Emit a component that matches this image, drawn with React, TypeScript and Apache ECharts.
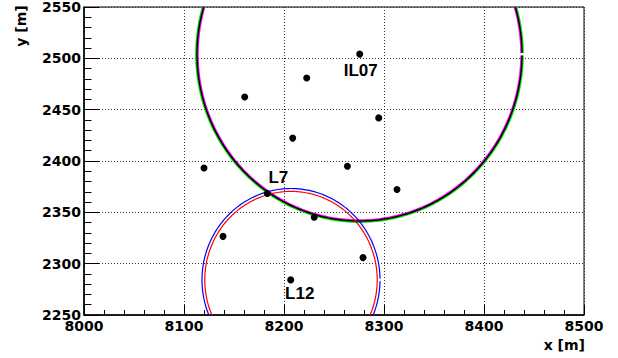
import React, { useEffect, useRef } from "react";
import * as echarts from "echarts";

// Measured points (x [m], y [m])
const pointX = [8120, 8160.7, 8208.7, 8222.7, 8275.7, 8263.4, 8294.7, 8313, 8183.4, 8230.2, 8139, 8279, 8206.7];
const pointY = [2393.2, 2462.4, 2422.3, 2480.8, 2504.1, 2394.8, 2442, 2372.2, 2368.3, 2345.3, 2326.6, 2305.9, 2284.2];
const pointLabel = ["", "", "", "", "IL07", "", "", "", "L7", "", "", "", "L12"];

// Circles (center x, center y, radius in metres)
const ringX = [8275.5, 8275.5, 8275.5, 8207, 8207];
const ringY = [2504, 2504, 2504, 2284.2, 2284.2];
const ringR = [161.5, 163.6, 162.5, 89, 86.2];

// Axis ticks
const xTicks = [8000, 8100, 8200, 8300, 8400, 8500];
const yTicks = [2250, 2300, 2350, 2400, 2450, 2500, 2550];

// styles
const ringColor = ["#ff00ff", "#00e000", "#000000", "#0000ff", "#ff0000"];
const ringWidth = [1.5, 1.5, 1.5, 1.2, 1.2];
const ringGap = [1.2, 1.2, 1.2, 1.2, 0];
const labelOffset: Record<string, [number, number]> = {
  IL07: [1, 16],
  L7: [11, -16],
  L12: [9, 14],
};

export default function App() {
  const ref = useRef<HTMLDivElement>(null);
  useEffect(() => {
    if (!ref.current) return;
    const chart = echarts.init(ref.current, undefined, { renderer: "svg" });
    const tickFont = {
      fontFamily: "DejaVu Sans",
      fontWeight: "bold" as const,
      fontSize: 14,
      color: "#000",
    };
    const grid = "#333";
    chart.setOption({
      animation: false,
      backgroundColor: "#fff",
      grid: {
        left: 84,
        right: 34,
        top: 6,
        bottom: 43,
        show: true,
        borderColor: "#000",
        borderWidth: 1,
        backgroundColor: "transparent",
      },
      xAxis: {
        type: "value",
        min: xTicks[0],
        max: xTicks[xTicks.length - 1],
        interval: 100,
        axisLine: { show: true, onZero: false, lineStyle: { color: "#000", width: 1.5 } },
        axisTick: { show: true, inside: true, length: 10, lineStyle: { color: "#000" } },
        minorTick: { show: true, splitNumber: 5, length: 5, lineStyle: { color: "#000" } },
        splitLine: { show: true, lineStyle: { color: grid, type: [1, 2], width: 1 } },
        axisLabel: {
          ...tickFont,
          margin: 4,
          showMinLabel: true,
          showMaxLabel: true,
          formatter: (v: number) => String(v),
        },
      },
      yAxis: {
        type: "value",
        min: yTicks[0],
        max: yTicks[yTicks.length - 1],
        interval: 50,
        axisLine: { show: true, onZero: false, lineStyle: { color: "#000", width: 1.5 } },
        axisTick: { show: true, inside: true, length: 15, lineStyle: { color: "#000" } },
        minorTick: { show: true, splitNumber: 5, length: 7.5, lineStyle: { color: "#000" } },
        splitLine: { show: true, lineStyle: { color: grid, type: [1, 2], width: 1 } },
        axisLabel: {
          ...tickFont,
          margin: 3,
          showMinLabel: true,
          showMaxLabel: true,
          formatter: (v: number) => String(v),
        },
      },
      graphic: [
        {
          type: "text",
          right: 33,
          top: 338,
          style: { text: "x [m]", fill: "#000", font: "bold 14px 'DejaVu Sans'" },
        },
        {
          type: "text",
          x: 20.5,
          y: 26,
          rotation: Math.PI / 2,
          style: {
            text: "y [m]",
            font: "bold 14px 'DejaVu Sans'",
            fill: "#000",
            align: "center",
            verticalAlign: "middle",
          },
        },
      ],
      series: [
        {
          type: "custom",
          clip: true,
          z: 2,
          data: ringX.map((x, i) => [x, ringY[i], ringR[i]]),
          renderItem: (params: any, api: any) => {
            const idx = params.dataIndex;
            const c = api.coord([api.value(0), api.value(1)]);
            const s = api.size([api.value(2), api.value(2)]);
            const gap = ringGap[idx] / Math.max(s[0], 1);
            const pts: number[][] = [];
            const n = 360;
            for (let k = 0; k <= n; k++) {
              const a = gap + ((2 * Math.PI - 2 * gap) * k) / n;
              pts.push([c[0] + s[0] * Math.cos(a), c[1] - s[1] * Math.sin(a)]);
            }
            return {
              type: "polyline",
              shape: { points: pts },
              style: { stroke: ringColor[idx], lineWidth: ringWidth[idx], fill: "none" },
            };
          },
        },
        {
          type: "scatter",
          z: 5,
          symbol: "circle",
          symbolSize: 7,
          itemStyle: { color: "#000", opacity: 1 },
          data: pointX.map((x, i) => {
            const lab = pointLabel[i];
            return {
              value: [x, pointY[i]],
              label: lab
                ? {
                    show: true,
                    formatter: lab,
                    position: "inside",
                    offset: labelOffset[lab],
                    fontFamily: "Liberation Sans",
                    fontWeight: "bold",
                    fontSize: 17,
                    color: "#000",
                    opacity: 1,
                  }
                : { show: false },
            };
          }),
        },
      ],
    });
    return () => chart.dispose();
  }, []);
  return (
    <div
      ref={ref}
      style={{ position: "absolute", left: 0, top: 0, width: 618, height: 358, background: "#fff" }}
    />
  );
}
